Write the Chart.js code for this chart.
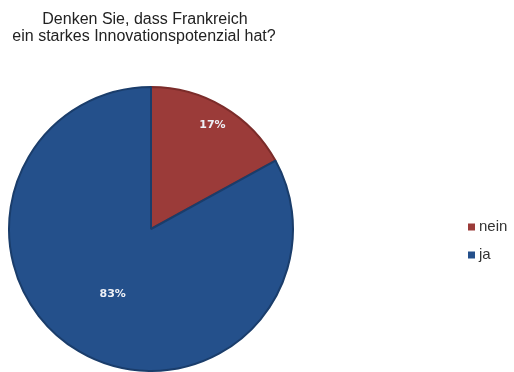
<!DOCTYPE html>
<html>
<head>
<meta charset="utf-8">
<script src="https://cdn.jsdelivr.net/npm/chart.js@4/dist/chart.umd.min.js"></script>
<style>
  html, body { margin: 0; padding: 0; background: #fff; }
  #wrap { width: 514px; height: 372px; position: relative; }
</style>
</head>
<body>
<div id="wrap"><canvas id="pie-canvas" width="514" height="372"></canvas></div>
<script>
  "use strict";

  // data
  var answerLabels = ["nein", "ja"];
  var answerShares = [17, 83];
  var titleLines = ["Denken Sie, dass Frankreich", "ein starkes Innovationspotenzial hat?"];

  var sliceColors = ["#9b3b39", "#24508b"];
  var sliceBorders = ["#7b2c2a", "#1a3d6b"];

  // title, percent labels and legend drawn by hand
  var pieDecor = {
    id: "pieDecor",
    afterDraw: function (chart) {
      var ctx = chart.ctx;
      ctx.save();
      ctx.fillStyle = "#222";
      ctx.font = "16px 'Liberation Sans', Arial, sans-serif";
      ctx.textAlign = "center";
      ctx.textBaseline = "alphabetic";
      ctx.fillText(titleLines[0], 145, 24);
      ctx.fillText(titleLines[1], 144, 41);

      // percent labels
      var meta = chart.getDatasetMeta(0);
      var radial = [0.85, 0.53];
      ctx.textBaseline = "middle";
      ctx.font = "bold 11px 'DejaVu Sans', sans-serif";
      ctx.fillStyle = "#eef0f6";
      meta.data.forEach(function (arc, i) {
        var mid = (arc.startAngle + arc.endAngle) / 2;
        var r = arc.outerRadius * radial[i];
        var x = arc.x + Math.cos(mid) * r;
        var y = arc.y + Math.sin(mid) * r;
        ctx.fillText(answerShares[i] + "%", x, y);
      });

      // legend
      ctx.textAlign = "left";
      ctx.font = "15px 'Liberation Sans', Arial, sans-serif";
      answerLabels.forEach(function (lab, i) {
        var y = 227 + i * 28;
        ctx.fillStyle = sliceColors[i];
        ctx.fillRect(468, y - 3.5, 7, 7);
        ctx.fillStyle = "#333";
        ctx.fillText(lab, 479, y);
      });
      ctx.restore();
    }
  };

  var pieCanvas = document.getElementById("pie-canvas");

  var pieChart = new Chart(pieCanvas, {
    type: "pie",
    data: {
      labels: answerLabels,
      datasets: [
        {
          data: answerShares,
          backgroundColor: sliceColors,
          borderColor: sliceBorders,
          borderWidth: 2,
        },
      ],
    },
    options: {
      responsive: false,
      animation: false,
      layout: { padding: { left: 8, right: 220, top: 86, bottom: 0 } },
      plugins: {
        legend: { display: false },
        tooltip: { enabled: false },
      },
    },
    plugins: [pieDecor],
  });
</script>
</body>
</html>
